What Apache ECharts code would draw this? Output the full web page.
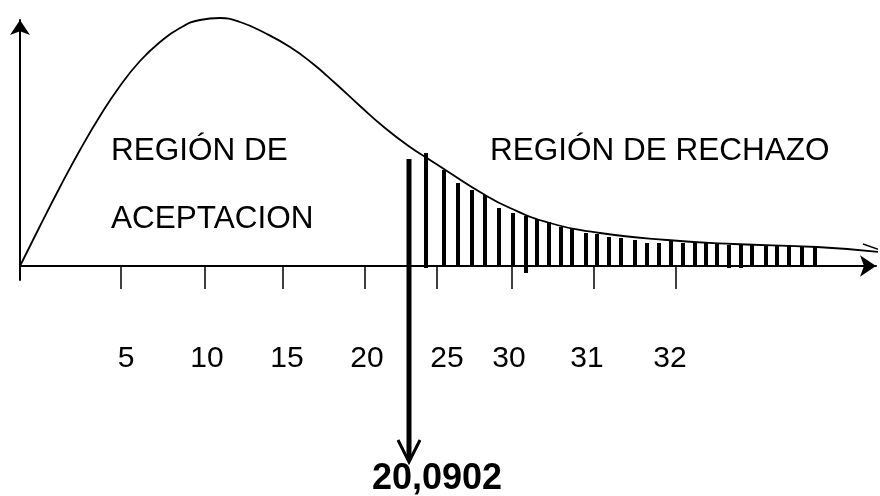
<!DOCTYPE html>
<html>
<head>
<meta charset="utf-8">
<script src="https://cdn.jsdelivr.net/npm/echarts@6/dist/echarts.min.js"></script>
<style>
  html, body { margin: 0; padding: 0; background: #fff; }
  #chart { width: 880px; height: 496px; }
</style>
</head>
<body>
<div id="chart"></div>
<script>
// units: x measured from the origin, y measured above the horizontal axis
var curveX = [0, 20, 40, 60, 80, 100, 120, 140, 160, 180, 200, 220, 245, 270, 292, 315, 340, 365, 390, 410, 430, 460, 490, 530, 580, 647, 713, 797, 860];
var curveY = [0, 40, 79, 116, 150, 180, 205, 224, 238, 246, 248, 244, 233, 219, 203, 183, 160, 138, 119, 106, 93, 74, 58, 43, 33, 26, 22, 19, 14];

// little barb at the right end of the curve
var barbX = [843, 860];
var barbY = [22, 16];

// rejection-region hatching
var barX = [406, 424, 438, 452, 465, 479, 493, 506, 517, 529, 541, 552, 566, 577, 589, 601, 615, 627, 639, 651, 663, 675, 686, 697, 709, 721, 732, 746, 757, 769, 782, 795];
var barTop = [113, 96, 83, 76, 71, 58, 53, 50, 47, 44, 39, 37, 33, 32, 29, 28, 26, 23, 23, 25, 23, 23, 23, 23, 21, 21, 21, 21, 21, 21, 19, 19];
var barBottom = [-2, 0, 0, 0, 0, 0, 0, -7, 0, 0, 0, 0, 0, 0, 0, 1, 0, 0, 0, 0, 0, 0, 0, 0, -2, -2, 0, 0, 0, 0, 0, 0];

// axis ticks and the (offset) labels under them
var tickPos = [101, 185, 263, 345, 417, 492, 574, 656];
var tickLabelPos = [106, 187, 267, 347, 427, 489, 567, 650];
var tickLabels = ['5', '10', '15', '20', '25', '30', '31', '32'];

// critical value line: x, top, bottom
var critical = [389, 107, -196];
var criticalLabel = '20,0902';

var regionTexts = ['REGIÓN DE', 'ACEPTACION', 'REGIÓN DE RECHAZO'];

var FONT = '"Liberation Sans", Arial, sans-serif';

var curve = curveX.map(function (x, i) { return [x, curveY[i]]; });
var barb = barbX.map(function (x, i) { return [x, barbY[i]]; });
var bars = barX.map(function (x, i) { return [x, barTop[i], barBottom[i]]; });

var chart = echarts.init(document.getElementById('chart'));
chart.setOption({
  backgroundColor: '#fff',
  animation: false,
  grid: { left: 20, right: 4, top: 20, bottom: 216 },
  xAxis: {
    type: 'value',
    min: 0,
    max: 856,
    splitLine: { show: false },
    axisLine: {
      onZero: true,
      symbol: ['none', 'arrow'],
      symbolSize: [16, 16],
      lineStyle: { color: '#000', width: 2 }
    },
    axisTick: {
      show: true,
      length: 23,
      customValues: tickPos,
      lineStyle: { color: '#000', width: 1.5 }
    },
    axisLabel: {
      show: true,
      margin: 64,
      customValues: tickLabelPos,
      fontSize: 30,
      fontFamily: FONT,
      color: '#000',
      formatter: function (v) {
        var i = tickLabelPos.indexOf(v);
        return i >= 0 ? tickLabels[i] : '';
      }
    }
  },
  yAxis: {
    type: 'value',
    min: -14,
    max: 246,
    splitLine: { show: false },
    axisTick: { show: false },
    axisLabel: { show: false },
    axisLine: {
      show: true,
      onZero: false,
      symbol: ['none', 'arrow'],
      symbolSize: [15, 15],
      lineStyle: { color: '#000', width: 2 }
    }
  },
  graphic: [
    { type: 'text', x: 111, y: 151, style: { text: regionTexts[0], font: '31.5px ' + FONT, fill: '#000', verticalAlign: 'middle' } },
    { type: 'text', x: 111, y: 219, style: { text: regionTexts[1], font: '31.5px ' + FONT, fill: '#000', verticalAlign: 'middle' } },
    { type: 'text', x: 490, y: 151, style: { text: regionTexts[2], font: '31.5px ' + FONT, fill: '#000', verticalAlign: 'middle' } }
  ],
  series: [
    {
      type: 'line',
      data: curve,
      smooth: 0.5,
      symbol: 'none',
      clip: false,
      lineStyle: { color: '#000', width: 1.8 },
      z: 3
    },
    {
      type: 'line',
      data: barb,
      symbol: 'none',
      clip: false,
      lineStyle: { color: '#000', width: 1.5 },
      z: 3
    },
    {
      type: 'custom',
      data: bars,
      clip: false,
      renderItem: function (params, api) {
        var t = api.coord([api.value(0), api.value(1)]);
        var b = api.coord([api.value(0), api.value(2)]);
        return {
          type: 'rect',
          shape: { x: Math.round(t[0]) - 2, y: Math.round(t[1]), width: 4, height: Math.round(b[1] - t[1]) },
          style: { fill: '#000' }
        };
      },
      z: 4
    },
    {
      type: 'custom',
      data: [critical],
      clip: false,
      renderItem: function (params, api) {
        var t = api.coord([api.value(0), api.value(1)]);
        var b = api.coord([api.value(0), api.value(2)]);
        return {
          type: 'group',
          children: [
            {
              type: 'rect',
              shape: { x: Math.round(t[0]) - 2.5, y: t[1], width: 5, height: b[1] - t[1] - 2 },
              style: { fill: '#000' }
            },
            {
              type: 'polyline',
              shape: { points: [[b[0] - 11, b[1] - 22], [b[0], b[1]], [b[0] + 11, b[1] - 22]] },
              style: { stroke: '#000', lineWidth: 3, fill: null }
            },
            {
              type: 'text',
              x: b[0] + 28,
              y: b[1] + 17,
              style: {
                text: criticalLabel,
                font: 'bold 36px ' + FONT,
                fill: '#000',
                align: 'center',
                verticalAlign: 'middle'
              }
            }
          ]
        };
      },
      z: 5
    }
  ]
});
</script>
</body>
</html>
